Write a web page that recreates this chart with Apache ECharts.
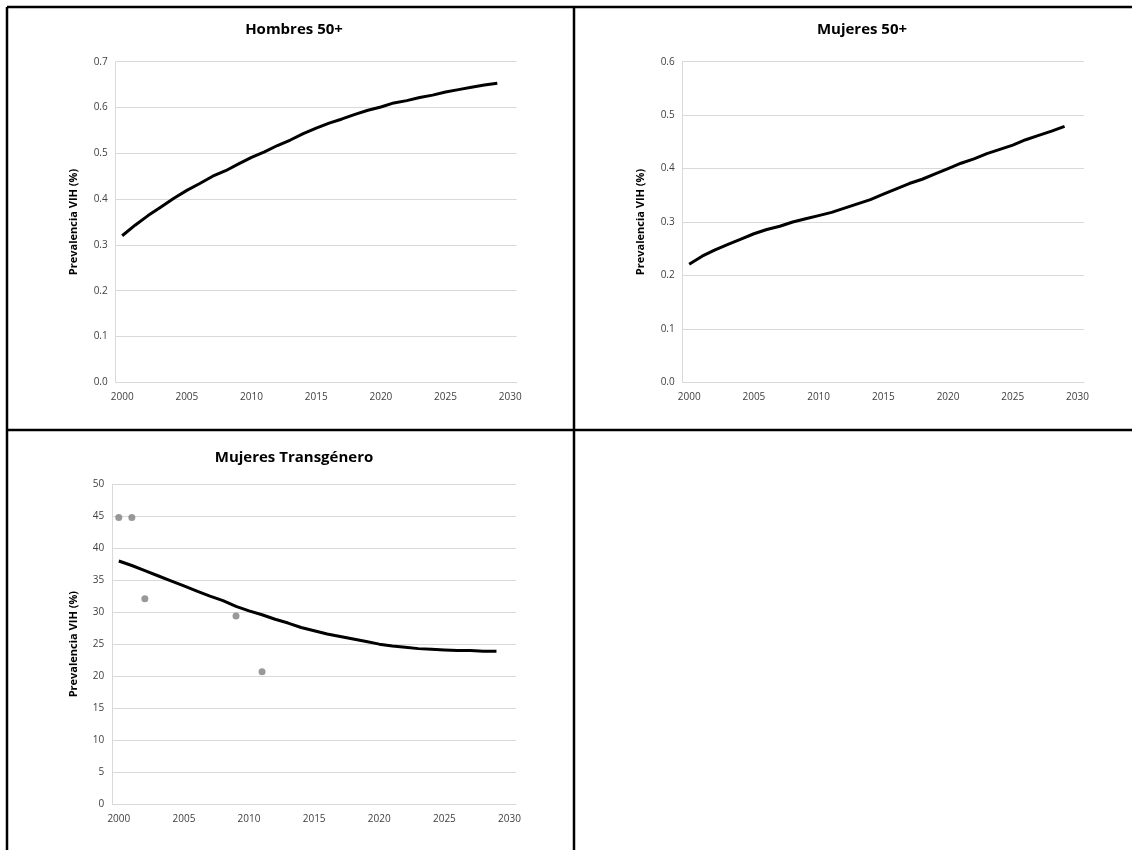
<!DOCTYPE html>
<html><head><meta charset="utf-8">
<script src="https://cdn.jsdelivr.net/npm/echarts@6/dist/echarts.min.js"></script>
<style>html,body{margin:0;padding:0;background:#fff}#c{width:1132px;height:850px}</style>
</head><body><div id="c"></div>
<script>
const years = [];
for (let y = 2000; y <= 2030; y++) years.push(String(y));

const hombres50 = [0.320,0.343,0.364,0.383,0.402,0.419,0.434,0.450,0.462,0.477,0.491,0.503,0.517,0.529,0.543,0.555,0.566,0.575,0.585,0.594,0.601,0.610,0.615,0.622,0.627,0.634,0.639,0.644,0.649,0.653];
const mujeres50 = [0.221,0.236,0.248,0.258,0.268,0.278,0.286,0.292,0.300,0.306,0.312,0.318,0.326,0.334,0.342,0.352,0.362,0.372,0.380,0.390,0.400,0.410,0.418,0.428,0.436,0.444,0.454,0.462,0.470,0.479];
const transModel = [38.0,37.3,36.5,35.7,34.9,34.1,33.3,32.5,31.8,30.9,30.2,29.6,28.9,28.3,27.6,27.1,26.6,26.2,25.8,25.4,25.0,24.7,24.5,24.3,24.2,24.1,24.0,24.0,23.9,23.9];
const transObsYears = ['2000','2001','2002','2009','2011'];
const transObs = [44.8,44.8,32.1,29.4,20.7];

const titles = ['Hombres 50+','Mujeres 50+','Mujeres Transgénero'];
const yName = 'Prevalencia VIH (%)';

const FONT = 'Open Sans';
const grids = [
  {left:115.7, right:615.3, top:61.7, bottom:467.7},
  {left:682.7, right:48, top:61.7, bottom:467.7},
  {left:112.3, right:616, top:484.3, bottom:46}
];
const yCfg = [
  {min:0,max:0.7,interval:0.1,dec:1,nameGap:36},
  {min:0,max:0.6,interval:0.1,dec:1,nameGap:36},
  {min:0,max:50,interval:5,dec:0,nameGap:33}
];
const titlePos = [{x:289,y:17},{x:857,y:17},{x:289,y:445}];

const xAxes = grids.map((g,i)=>({
  type:'category', gridIndex:i, data:years, boundaryGap:true,
  axisLine:{show:true,lineStyle:{color:'#d9d9d9',width:1}},
  axisTick:{show:false},
  axisLabel:{interval:4, color:'#404040', fontSize:10, fontFamily:FONT, margin:10, showMaxLabel:true},
  splitLine:{show:false}
}));
const yAxes = yCfg.map((c,i)=>({
  type:'value', gridIndex:i, min:c.min, max:c.max, interval:c.interval,
  name:yName, nameLocation:'middle', nameGap:c.nameGap, nameRotate:90,
  nameTextStyle:{fontSize:11, fontWeight:'bold', color:'#000', fontFamily:FONT},
  axisLine:{show:true,lineStyle:{color:'#d9d9d9',width:1}},
  axisTick:{show:false},
  axisLabel:{color:'#404040', fontSize:10, fontFamily:FONT, margin:8, formatter:v=>v.toFixed(c.dec)},
  splitLine:{show:true,lineStyle:{color:'#d9d9d9',width:1}}
}));

const lineStyle = {color:'#000', width:3};
const series = [
  {type:'line', xAxisIndex:0, yAxisIndex:0, data:hombres50, showSymbol:false, symbol:'none', lineStyle, z:3},
  {type:'line', xAxisIndex:1, yAxisIndex:1, data:mujeres50, showSymbol:false, symbol:'none', lineStyle, z:3},
  {type:'line', xAxisIndex:2, yAxisIndex:2, data:transModel, showSymbol:false, symbol:'none', lineStyle, z:3},
  {type:'scatter', xAxisIndex:2, yAxisIndex:2, data:transObsYears.map((y,i)=>[y,transObs[i]]), symbol:'circle', symbolSize:7, itemStyle:{color:'#808080'}, z:4}
];

const borderStyle = {stroke:'#000', lineWidth:2.5};
const graphic = [
  {type:'line', shape:{x1:7,y1:7,x2:1132,y2:7}, style:borderStyle},
  {type:'line', shape:{x1:7,y1:7,x2:7,y2:850}, style:borderStyle},
  {type:'line', shape:{x1:574,y1:7,x2:574,y2:850}, style:borderStyle},
  {type:'line', shape:{x1:7,y1:430,x2:1132,y2:430}, style:borderStyle}
];

const chart = echarts.init(document.getElementById('c'), null, {renderer:'canvas'});
chart.setOption({
  animation:false,
  backgroundColor:'#fff',
  title: titles.map((t,i)=>({text:t, left:titlePos[i].x, top:titlePos[i].y, textAlign:'center',
    textStyle:{fontSize:15, fontWeight:'bold', color:'#000', fontFamily:FONT}})),
  grid: grids,
  xAxis: xAxes,
  yAxis: yAxes,
  series,
  graphic
});
</script></body></html>
